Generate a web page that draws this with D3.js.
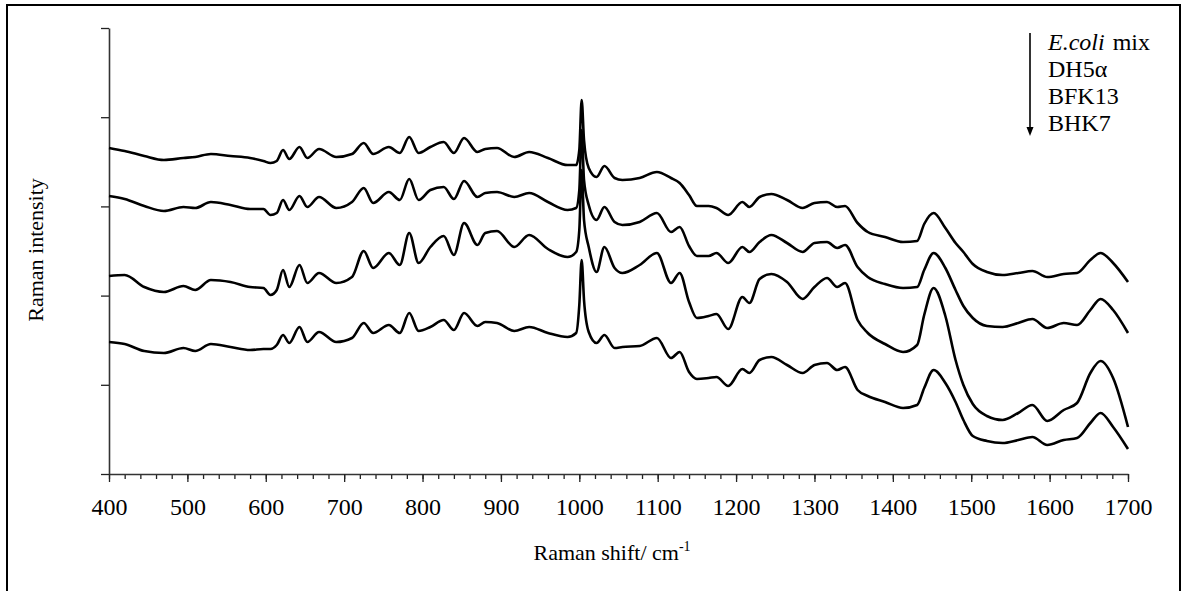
<!DOCTYPE html>
<html>
<head>
<meta charset="utf-8">
<script src="https://cdn.jsdelivr.net/npm/d3@7/dist/d3.min.js"></script>
<style>
  body { margin: 0; background: #fff; }
  svg text { font-family: "Liberation Serif", "Times New Roman", serif; fill: #000; }
</style>
</head>
<body>
<svg id="board" width="1184" height="591"></svg>
<script>
// wavenumbers (cm-1), shared by all spectra
const shifts = [400,420,445,470,495,510,530,555,580,597,606,614,622,630,643,653,668,690,710,725,
  737,757,771,783,795,810,827,840,853,870,880,895,917,936,960,985,996,1000,1003,1006,
  1012,1022,1032,1045,1055,1077,1099,1117,1128,1140,1150,1165,1175,1190,1208,1217,1230,1245,1265,1285,
  1300,1316,1329,1339,1355,1368,1390,1413,1431,1440,1452,1467,1480,1490,1502,1520,1540,1560,1578,1597,
  1618,1635,1652,1665,1681,1700];

// intensities (arbitrary units, already offset as in the figure)
const ecoliMix = [326,323,318,314,316,317,320,318,316,313,311,313,324,315,327,316,325,317,320,331,
  320,327,321,337,321,327,332,321,336,322,325,326,317,322,316,309,309,324,374,334,
  306,297,308,296,294,296,302,296,291,279,268,268,266,259,272,267,277,280,274,266,
  271,272,267,268,251,242,237,232,233,250,261,246,231,222,210,202,199,201,203,197,
  200,201,214,221,211,192];
const dh5a = [278,275,268,263,267,266,272,269,265,265,259,261,274,264,278,267,277,266,272,286,
  271,282,274,295,274,284,287,275,293,277,281,282,277,281,272,264,266,284,344,294,
  269,254,267,252,249,252,261,242,247,228,218,218,221,211,227,222,232,239,231,222,
  231,232,226,229,207,197,190,186,187,204,221,206,184,168,156,148,147,151,155,146,
  151,149,164,175,164,141];
const bfk13 = [198,199,187,182,188,184,194,192,187,186,179,184,204,187,209,191,201,191,197,223,
  206,221,209,241,211,227,238,219,251,229,241,243,227,239,225,217,222,244,304,254,
  227,202,227,206,201,209,221,191,201,172,156,158,160,145,177,171,195,200,192,175,
  187,196,187,191,154,141,130,122,129,159,186,158,114,89,70,58,54,61,69,53,
  64,71,101,113,96,47];
const bhk7 = [132,130,123,121,126,123,130,127,124,125,125,129,139,131,147,132,142,132,136,151,
  141,149,141,161,143,147,154,144,161,148,152,151,143,147,141,137,141,169,214,174,
  142,131,139,126,127,128,136,116,122,102,95,96,97,88,105,101,114,117,109,101,
  109,111,104,107,84,78,72,66,69,86,104,91,72,54,38,33,31,34,37,29,
  34,36,51,61,47,25];

const seriesNames = ["E.coli mix", "DH5α", "BFK13", "BHK7"];
const allSeries = [ecoliMix, dh5a, bfk13, bhk7];
const xTicks = d3.range(400, 1701, 100);
const xMinor = d3.range(400, 1701, 20);

const svg = d3.select("#board");
const plotLeft = 109, plotRight = 1128, plotTop = 28, plotBottom = 474;

const x = d3.scaleLinear().domain([400, 1700]).range([plotLeft, plotRight]);
const y = d3.scaleLinear().domain([0, 446]).range([plotBottom, plotTop]);
const yTicks = d3.range(6).map(i => i * 446 / 5);

// outer frame
svg.append("rect")
    .attr("x", 7).attr("y", 5)
    .attr("width", 1173).attr("height", 600)
    .attr("fill", "none").attr("stroke", "#000").attr("stroke-width", 2);

// minor x ticks
svg.append("g")
    .attr("transform", `translate(0,${plotBottom})`)
    .call(d3.axisBottom(x).tickValues(xMinor).tickSize(5).tickFormat(""))
    .call(g => g.select(".domain").remove())
    .selectAll("line").attr("stroke", "#222").attr("stroke-width", 1.3);

// major x axis
const xAxis = svg.append("g")
    .attr("transform", `translate(0,${plotBottom})`)
    .call(d3.axisBottom(x).tickValues(xTicks).tickSize(8).tickSizeOuter(0)
        .tickPadding(16).tickFormat(d3.format("d")));
xAxis.select(".domain").attr("stroke", "#333").attr("stroke-width", 1.6);
xAxis.selectAll("line").attr("stroke", "#222").attr("stroke-width", 1.3);
xAxis.selectAll("text")
    .style("font-family", '"Liberation Serif", "Times New Roman", serif')
    .attr("font-size", 24);

// y axis (no labels)
const yAxis = svg.append("g")
    .attr("transform", `translate(${plotLeft},0)`)
    .call(d3.axisLeft(y).tickValues(yTicks).tickSize(8).tickSizeOuter(0).tickFormat(""));
yAxis.select(".domain").attr("stroke", "#333").attr("stroke-width", 1.6);
yAxis.selectAll("line").attr("stroke", "#222").attr("stroke-width", 1.3);

// axis titles
const xTitle = svg.append("text")
    .attr("x", 612).attr("y", 560)
    .attr("text-anchor", "middle")
    .attr("font-size", 22);
xTitle.append("tspan").text("Raman shift/ cm");
xTitle.append("tspan").attr("font-size", 14).attr("dy", -9).text("-1");

svg.append("text")
    .attr("transform", "translate(43,250) rotate(-90)")
    .attr("text-anchor", "middle")
    .attr("font-size", 22)
    .text("Raman intensity");

// spectra
const line = d3.line()
    .x((d, i) => x(shifts[i]))
    .y(d => y(d))
    .curve(d3.curveMonotoneX);

svg.append("g")
    .selectAll("path")
    .data(allSeries)
    .join("path")
    .attr("d", d => line(d))
    .attr("fill", "none")
    .attr("stroke", "#000")
    .attr("stroke-width", 2.6)
    .attr("stroke-linejoin", "round");

// legend with arrow
const legend = svg.append("g");
legend.append("line")
    .attr("x1", 1030).attr("y1", 33)
    .attr("x2", 1030).attr("y2", 128)
    .attr("stroke", "#000").attr("stroke-width", 1.6);
legend.append("path")
    .attr("d", "M1026.5,127 L1033.5,127 L1030,136 Z")
    .attr("fill", "#000");

const legendText = legend.selectAll("text")
    .data(seriesNames)
    .join("text")
    .attr("x", 1048)
    .attr("y", (d, i) => 50 + i * 27)
    .attr("font-size", 24);

legendText.each(function (d, i) {
    const t = d3.select(this);
    if (i === 0) {
        t.append("tspan").attr("font-style", "italic").text("E.coli");
        t.append("tspan").attr("dx", 8).text("mix");
    } else {
        t.text(d);
    }
});
</script>
</body>
</html>
